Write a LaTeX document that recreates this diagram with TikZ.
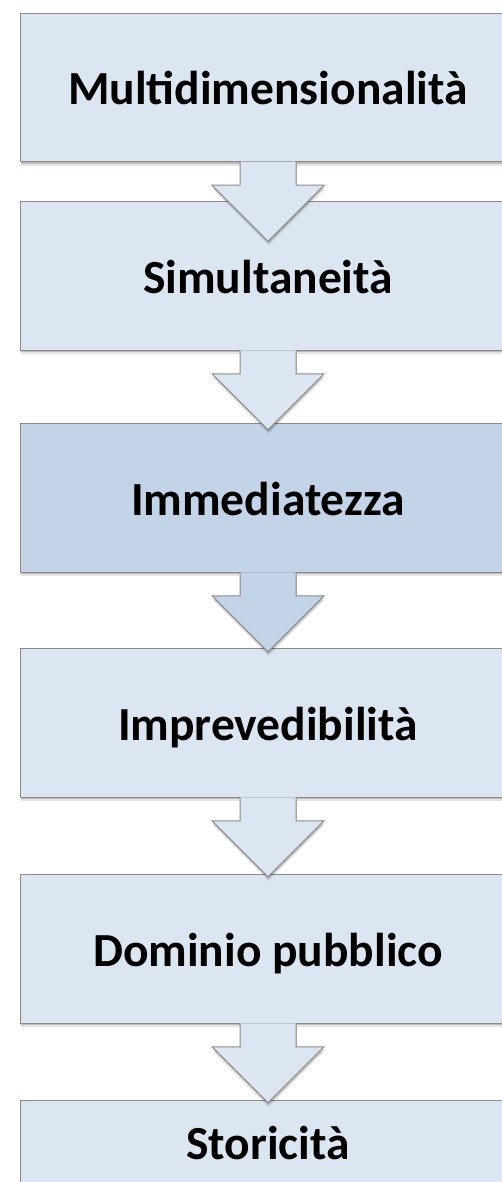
\documentclass[tikz,border=0pt]{standalone}
\usepackage{fontspec}
\setmainfont{Carlito}
\usetikzlibrary{shadows}
\definecolor{boxlight}{HTML}{DCE6F2}
\definecolor{boxdark}{HTML}{C3D4E9}
\definecolor{edgegray}{HTML}{8A8A8A}
\tikzset{
  softshadow/.style={
    drop shadow={shadow xshift=0.5pt, shadow yshift=-4pt, opacity=0.10, fill=black},
    drop shadow={shadow xshift=0.5pt, shadow yshift=-2pt, opacity=0.18, fill=black}},
  box/.style={rectangle, draw=edgegray, line width=1pt, fill=boxlight,
    minimum width=496pt, minimum height=148.5pt, inner sep=0pt,
    text height=35pt, text depth=0pt, softshadow,
    font=\fontsize{47.5pt}{50pt}\selectfont\bfseries},
  arrfill/.style={fill=boxlight, softshadow},
  arredge/.style={draw=edgegray, line width=1pt, line join=miter}
}
\newcommand{\blockarr}[2]{%
  \fill[arrfill,#2] ([xshift=-28pt,yshift=0.5pt]#1.south) -- ++(0,23.5) -- ++(-28,0)
     -- ++(56,56) -- ++(56,-56) -- ++(-28,0) -- ++(0,-23.5) -- cycle;
  \draw[arredge] ([xshift=-28pt]#1.south) -- ++(0,23) -- ++(-28,0)
     -- ++(56,56) -- ++(56,-56) -- ++(-28,0) -- ++(0,-23);
}
\begin{document}
\begin{tikzpicture}[x=1pt,y=-1pt]
\useasboundingbox (0,0) rectangle (502,1182);
\clip (0,0) rectangle (502,1182);
\node[box] (b1) at (268,87.5) {Multidimensionalità};
\node[box] (b2) at (268,276) {Simultaneità};
\node[box, fill=boxdark] (b3) at (268,498) {Immediatezza};
\node[box] (b4) at (268,723) {Imprevedibilità};
\node[box] (b5) at (268,949) {Dominio pubblico};
\node[box, text height=0pt, text depth=30pt] (b6) at (268,1174.25) {Storicità};
\blockarr{b1}{}
\blockarr{b2}{}
\blockarr{b3}{fill=boxdark}
\blockarr{b4}{}
\blockarr{b5}{}
\end{tikzpicture}
\end{document}
